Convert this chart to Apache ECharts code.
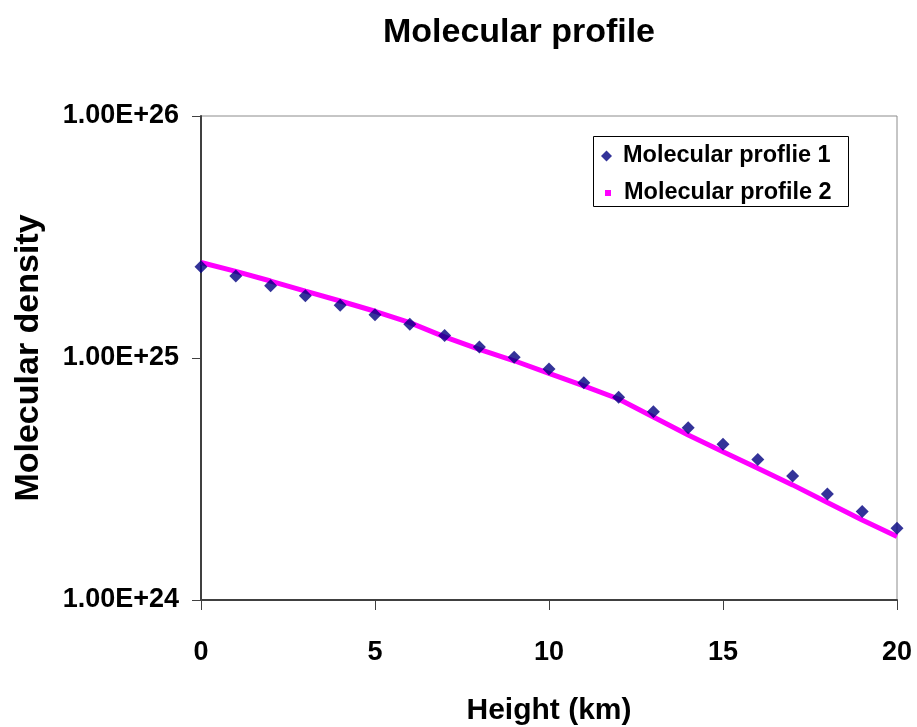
<!DOCTYPE html>
<html>
<head>
<meta charset="utf-8">
<script src="https://cdn.jsdelivr.net/npm/echarts@6/dist/echarts.min.js"></script>
<style>
  html, body { margin: 0; padding: 0; background: #fff; }
  #chart { width: 917px; height: 727px; }
</style>
</head>
<body>
<div id="chart"></div>
<script>
// Heights (km) at which both profiles are sampled
const heights = [0, 1, 2, 3, 4, 5, 6, 7, 8, 9, 10, 11, 12, 13, 14, 15, 16, 17, 18, 19, 20];

// Molecular profile 1 (markers)
const profile1 = [2.38e25, 2.18e25, 1.99e25, 1.81e25, 1.65e25, 1.51e25, 1.38e25, 1.24e25,
  1.11e25, 1.006e25, 9.0e24, 7.9e24, 6.88e24, 6.0e24, 5.15e24, 4.40e24, 3.81e24,
  3.25e24, 2.74e24, 2.32e24, 1.98e24];

// Molecular profile 2 (line)
const profile2 = [2.48e25, 2.28e25, 2.08e25, 1.89e25, 1.72e25, 1.56e25, 1.40e25, 1.223e25,
  1.085e25, 9.74e24, 8.64e24, 7.67e24, 6.77e24, 5.70e24, 4.81e24, 4.10e24, 3.50e24,
  2.99e24, 2.53e24, 2.14e24, 1.83e24];

const seriesNames = ['Molecular proflie 1', 'Molecular profile 2'];
const xTicks = { min: 0, max: 20, interval: 5 };
const yRange = { min: 1e24, max: 1e26 };

const FONT = '"Liberation Sans", Arial, sans-serif';

const chart = echarts.init(document.getElementById('chart'), null, { renderer: 'canvas' });

chart.setOption({
  backgroundColor: '#ffffff',
  animation: false,
  title: {
    text: 'Molecular profile',
    left: 514,
    top: 11,
    textAlign: 'center',
    textStyle: { fontFamily: FONT, fontWeight: 'bold', fontSize: 34, color: '#000' }
  },
  grid: {
    left: 201, right: 20, top: 116, bottom: 127,
    containLabel: false,
    outerBoundsMode: 'none',
    show: true, borderColor: '#8c8c8c', borderWidth: 1, backgroundColor: 'transparent'
  },
  graphic: [{
    type: 'rect',
    z: 3,
    shape: { x: 593.5, y: 136.5, width: 255, height: 70 },
    style: { fill: '#fff', stroke: '#000', lineWidth: 1 }
  }],
  legend: [{
    data: [{ name: seriesNames[0], icon: 'diamond' }],
    left: 596, top: 139, orient: 'vertical',
    itemWidth: 11, itemHeight: 11,
    z: 5,
    textStyle: { fontFamily: FONT, fontWeight: 'bold', fontSize: 23.5, color: '#000', padding: [0, 0, 0, 6] }
  }, {
    data: [{ name: seriesNames[1], icon: 'rect' }],
    left: 600, top: 176, orient: 'vertical',
    itemWidth: 6, itemHeight: 6,
    z: 5,
    textStyle: { fontFamily: FONT, fontWeight: 'bold', fontSize: 23.5, color: '#000', padding: [0, 0, 0, 8] }
  }],
  xAxis: {
    type: 'value',
    min: xTicks.min, max: xTicks.max, interval: xTicks.interval,
    name: 'Height (km)',
    nameLocation: 'middle',
    nameGap: 96,
    nameTextStyle: { fontFamily: FONT, fontWeight: 'bold', fontSize: 30, color: '#000' },
    axisLine: { onZero: false, lineStyle: { color: '#404040', width: 2 } },
    axisTick: { show: true, length: 10, lineStyle: { color: '#404040', width: 1 } },
    axisLabel: { margin: 39, fontFamily: FONT, fontWeight: 'bold', fontSize: 27, color: '#000' },
    splitLine: { show: false }
  },
  yAxis: {
    type: 'log',
    logBase: 10,
    min: yRange.min, max: yRange.max,
    name: 'Molecular density',
    nameLocation: 'middle',
    nameRotate: 90,
    nameGap: 155,
    nameTextStyle: { fontFamily: FONT, fontWeight: 'bold', fontSize: 34, color: '#000' },
    axisLine: { onZero: false, lineStyle: { color: '#404040', width: 2 } },
    axisTick: { show: true, length: 9, lineStyle: { color: '#404040', width: 1 } },
    axisLabel: {
      margin: 22, fontFamily: FONT, fontWeight: 'bold', fontSize: 27, color: '#000',
      formatter: v => Number(v).toExponential(2).toUpperCase()
    },
    splitLine: { show: false },
    minorTick: { show: false }
  },
  series: [{
    name: seriesNames[1],
    type: 'line',
    data: heights.map((h, i) => [h, profile2[i]]),
    showSymbol: false,
    symbol: 'none',
    lineStyle: { color: '#ff00ff', width: 5 },
    itemStyle: { color: '#ff00ff' },
    z: 2
  }, {
    name: seriesNames[0],
    type: 'scatter',
    data: heights.map((h, i) => [h, profile1[i]]),
    symbol: 'diamond',
    symbolSize: 13,
    itemStyle: { color: '#000080' },
    z: 3
  }]
});
</script>
</body>
</html>
